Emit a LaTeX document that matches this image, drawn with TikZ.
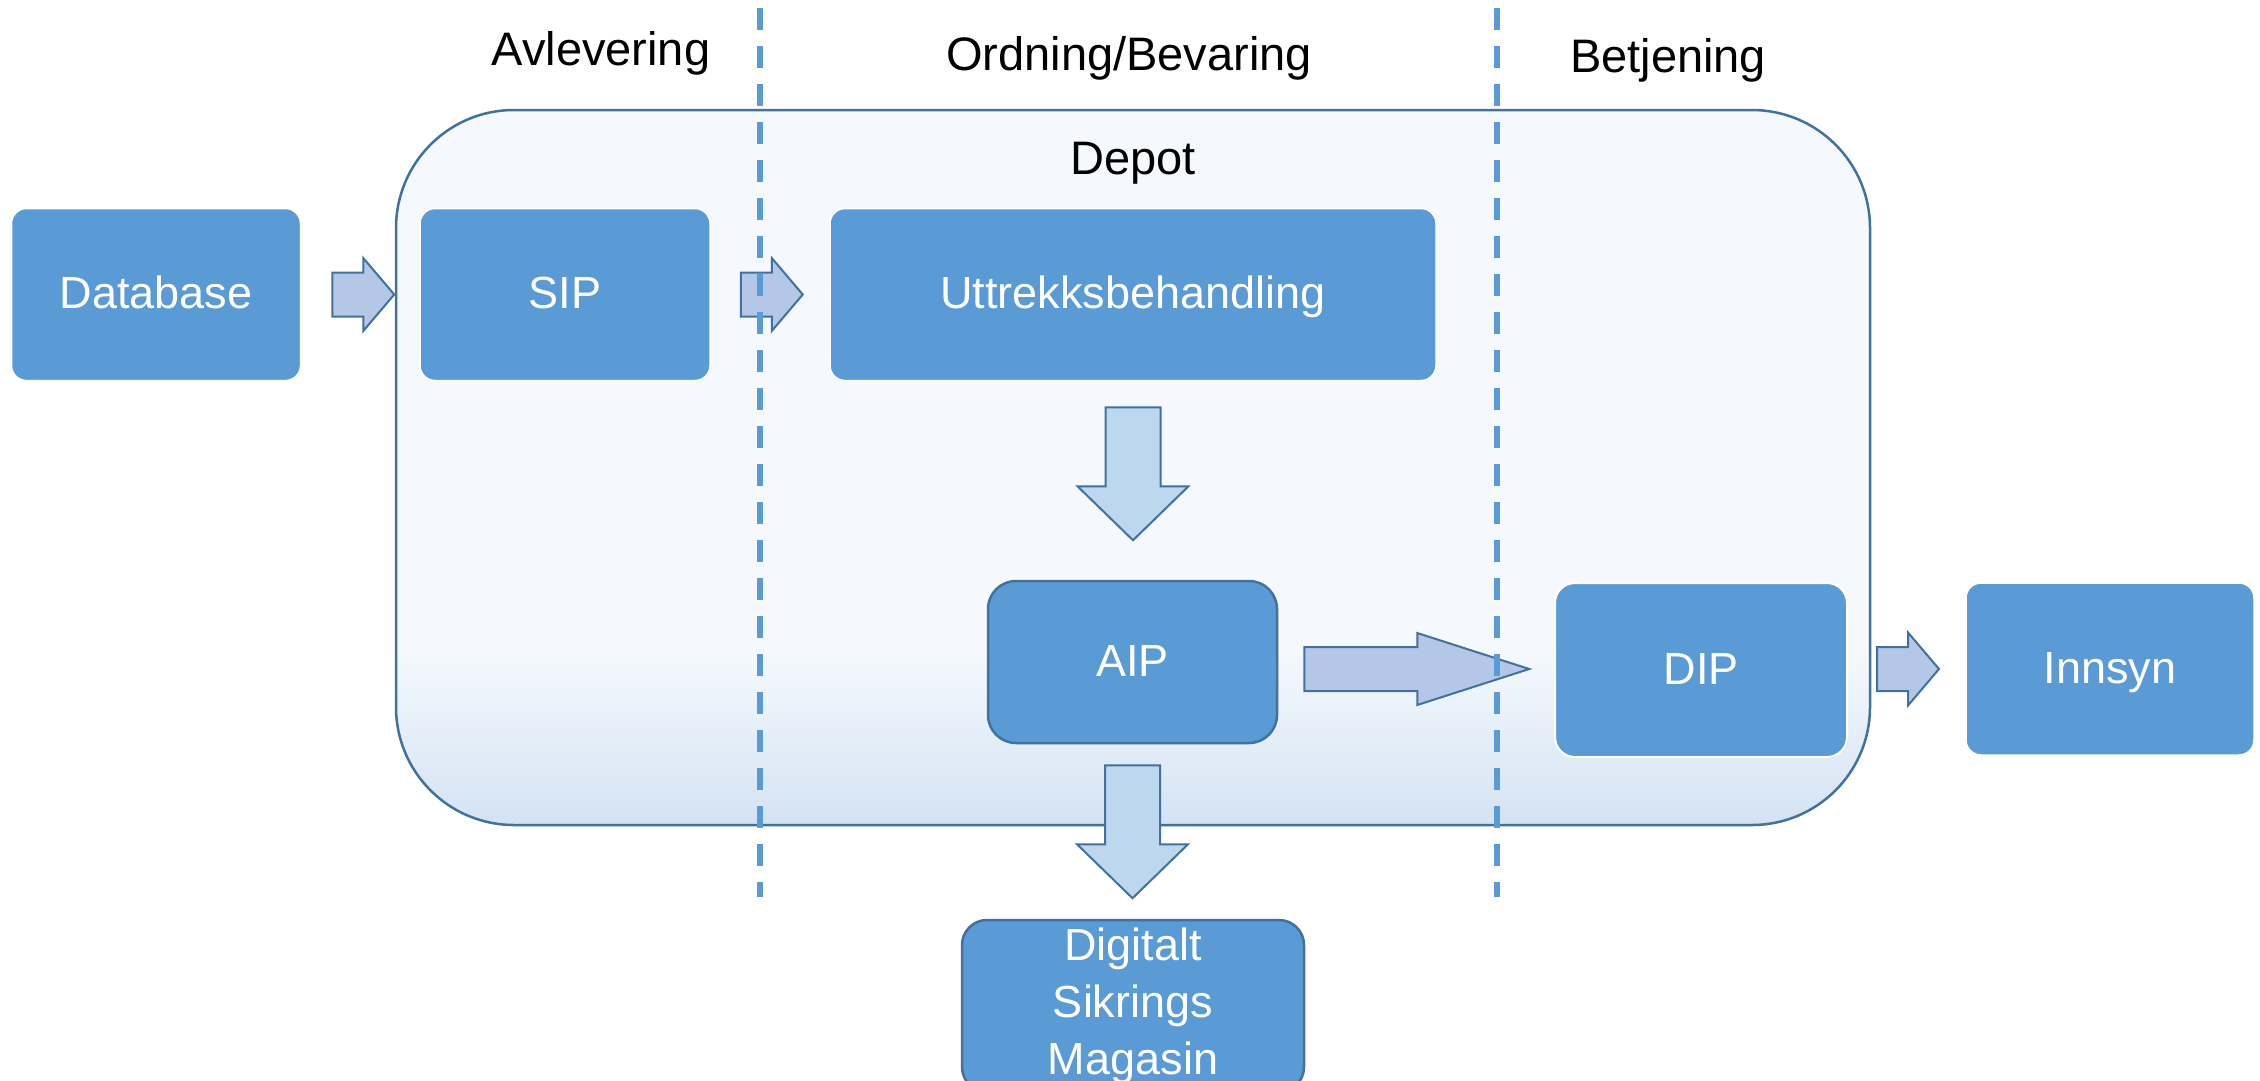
\documentclass[tikz,border=0pt]{standalone}
\usepackage{fontspec}
\setmainfont{Liberation Sans}
\usetikzlibrary{calc}
\definecolor{boxblue}{HTML}{5B9BD5}
\definecolor{edgeblue}{HTML}{41719C}
\definecolor{arrowfillA}{HTML}{B4C7E7}
\definecolor{arrowfillB}{HTML}{BDD7EE}
\definecolor{depottop}{HTML}{F5F9FD}
\definecolor{depotbot}{HTML}{D2E2F3}
% #1 tail coordinate, #2 total length, #3 head length, #4 shaft half-width, #5 head half-width, #6 fill
\newcommand\blockright[6]{%
  \draw[arrowline, fill=#6] (#1) ++(0,-#4) -- ++({#2-#3},0) -- ++(0,{#4-#5}) -- ++(#3,#5)
    -- ++(-#3,#5) -- ++(0,{#4-#5}) -- ++({#3-#2},0) -- cycle;}
\newcommand\blockdown[6]{%
  \draw[arrowline, fill=#6] (#1) ++(-#4,0) -- ++(0,{#2-#3}) -- ++({#4-#5},0) -- ++(#5,#3)
    -- ++(#5,-#3) -- ++({#4-#5},0) -- ++(0,{#3-#2}) -- cycle;}
\begin{document}
\begin{tikzpicture}[x=1pt,y=-1pt,
  box/.style={rectangle, rounded corners=15pt, fill=boxblue, draw=white, line width=1.5pt,
    text=white, font=\fontsize{45}{57}\selectfont, inner sep=0pt, align=center},
  oneline/.style={text height=33pt, text depth=5pt},
  darkbox/.style={box, draw=edgeblue, line width=2.5pt, rounded corners=28pt},
  phase/.style={font=\fontsize{47}{56}\selectfont, anchor=base, inner sep=0pt},
  divider/.style={boxblue, line width=5.5pt, dash pattern=on 22pt off 16pt},
  arrowline/.style={draw=edgeblue, line width=2pt}
]
\useasboundingbox (0,0) rectangle (2260,1080);

% Depot container (path picture coordinates are relative to the node centre)
\node[draw=edgeblue, line width=2.5pt, rounded corners=118pt, minimum width=1474pt,
  minimum height=715pt, inner sep=0pt,
  path picture={
    \fill[depottop, sharp corners] (-745,-365) rectangle (745,182.5);
    \shade[top color=depottop, bottom color=depotbot, sharp corners] (-745,182) rectangle (745,365);
  }] (depot) at (1133,467.5) {};
\node[phase] (depotlabel) at (1133,174) {Depot};

% phase headings
\node[phase] (avl) at (601,65) {Avlevering};
\node[phase] (ord) at (1129,70) {Ordning/Bevaring};
\node[phase] (bet) at (1668,72) {Betjening};

% boxes
\node[box, oneline, minimum width=289pt, minimum height=172pt] (db) at (156,294.5) {Database};
\node[box, oneline, minimum width=290pt, minimum height=172pt] (sip) at (565,294.5) {SIP};
\node[box, oneline, minimum width=606pt, minimum height=172pt] (utt) at (1133,294.5) {Uttrekksbehandling};
\node[darkbox, oneline, minimum width=289pt, minimum height=162pt] (aip) at (1132.5,662) {AIP};
\node[box, oneline, line width=2pt, rounded corners=20pt, minimum width=292pt, minimum height=174pt] (dip) at (1701,670) {DIP};
\node[box, oneline, minimum width=288pt, minimum height=172pt] (inn) at (2110,669) {Innsyn};
\node[darkbox, rounded corners=25pt, minimum width=342pt, minimum height=172pt] (dsm) at (1133,1006) {Digitalt\\Sikrings\\Magasin};

% block arrows (tails placed relative to the boxes they join)
\coordinate (t1) at ($(db.east)+(31,0)$);
\coordinate (t2) at ($(sip.east)+(30,0)$);
\coordinate (t3) at ($(utt.south)+(0,26)$);
\coordinate (t4) at ($(aip.east)+(26,7)$);
\coordinate (t5) at ($(aip.south)+(0,21)$);
\coordinate (t6) at ($(dip.east)+(29,-1)$);
\blockright{t1}{62}{31}{22}{36.5}{arrowfillA}
\blockright{t2}{62}{31}{22}{36.5}{arrowfillA}
\blockdown{t3}{133}{54}{27.5}{55.5}{arrowfillB}
\blockright{t4}{225}{112}{22}{36}{arrowfillA}
\blockdown{t5}{133}{54}{27.5}{55.5}{arrowfillB}
\blockright{t6}{62}{31}{22}{36.5}{arrowfillA}

% dividers
\coordinate (v1top) at (760,8);
\coordinate (v1bot) at (760,897);
\coordinate (v2top) at (1497,8);
\coordinate (v2bot) at (1497,897);
\draw[divider] (v1top) -- (v1bot);
\draw[divider] (v2top) -- (v2bot);
\end{tikzpicture}
\end{document}
